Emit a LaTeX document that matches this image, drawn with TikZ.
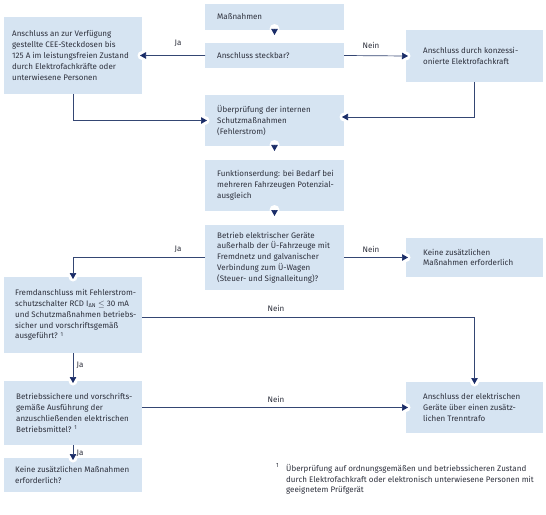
\documentclass[tikz,border=0pt]{standalone}
\usepackage{fontspec}
\setmainfont{Fira Sans}
\usetikzlibrary{arrows.meta,calc}
\definecolor{boxfill}{RGB}{214,228,242}
\definecolor{lin}{RGB}{52,70,115}
\definecolor{tipc}{RGB}{26,44,104}
\definecolor{txt}{RGB}{45,48,60}
% box node + its text node: name, x, y, width, height, left padding, text
\newcommand\bxnode[7]{%
  \node[bx, minimum height=#5bp, minimum width=#4bp] (#1) at (#2,#3) {};
  \node[bt] (#1-t) at ($(#1.west)+(#6,0)$) {#7};}
\begin{document}
\begin{tikzpicture}[x=1bp,y=-1bp,
  font=\fontsize{8bp}{10.8bp}\selectfont,
  bx/.style={fill=boxfill, anchor=north west, inner sep=0pt, outer sep=0pt},
  bt/.style={anchor=west, align=left, text=txt, inner sep=0pt},
  arr/.style={draw=lin, line width=0.7bp, -{Triangle[length=6bp,width=6.5bp,color=tipc]}},
  halo/.style={fill=white},
  lbl/.style={text=txt, inner sep=0pt}]
\useasboundingbox (0,0) rectangle (546,515);
\fill[white] (0,0) rectangle (546,515);
% boxes
\bxnode{mass}{205}{4}{139}{26}{12}{Maßnahmen}
\bxnode{steck}{205}{43}{139}{25}{12}{Anschluss steckbar?}
\bxnode{left}{4}{17}{138}{77}{8}{Anschluss an zur Verfügung\\gestellte CEE-Steckdosen bis\\125 A im leistungsfreien Zustand\\durch Elektrofachkräfte oder\\unterwiesene Personen}
\bxnode{right}{406}{30}{137}{52}{17}{Anschluss durch konzessi-\\onierte Elektrofachkraft}
\bxnode{ueber}{205}{95}{139}{51}{12}{Überprüfung der internen\\Schutzmaßnahmen\\(Fehlerstrom)}
\bxnode{funk}{205}{160}{139}{51}{12}{Funktionserdung: bei Bedarf bei\\mehreren Fahrzeugen Potenzial-\\ausgleich}
\bxnode{betr}{205}{225}{139}{65}{12}{Betrieb elektrischer Geräte\\außerhalb der Ü-Fahrzeuge mit\\Fremdnetz und galvanischer\\Verbindung zum Ü-Wagen\\(Steuer- und Signalleitung)?}
\bxnode{keine1}{406}{238}{137}{39}{17}{Keine zusätzlichen\\Maßnahmen erforderlich}
\bxnode{fremd}{4}{277}{138}{76}{11}{Fremdanschluss mit Fehlerstrom-\\schutzschalter RCD I\textsubscript{ΔN} $\leq$ 30 mA\\und Schutzmaßnahmen betriebs-\\sicher und vorschriftsgemäß\\ausgeführt? \textsuperscript{1}}
\bxnode{betrs}{4}{381}{138}{64}{12}{Betriebssichere und vorschrifts-\\gemäße Ausführung der\\anzuschließenden elektrischen\\Betriebsmittel? \textsuperscript{1}}
\bxnode{keine2}{4}{458}{138}{34}{11}{Keine zusätzlichen Maßnahmen\\erforderlich?}
\bxnode{trenn}{406}{382}{137}{51}{17}{Anschluss der elektrischen\\Geräte über einen zusätz-\\lichen Trenntrafo}
% footnote
\node[lbl, anchor=north west] (fnm) at (276,463) {\fontsize{6bp}{7bp}\selectfont 1};
\node[lbl, anchor=north west, align=left] (fn) at (286,464) {Überprüfung auf ordnungsgemäßen und betriebssicheren Zustand\\durch Elektrofachkraft oder elektronisch unterwiesene Personen mit\\geeignetem Prüfgerät};
% halos
\foreach \p in {left.east, right.west, ueber.west, keine1.west, fremd.north, betrs.north, keine2.north, trenn.north, trenn.west}
  \fill[halo] (\p) circle (4.5);
\foreach \p in {mass.south, ueber.south, funk.south}
  \fill[halo] ($(\p)+(0,-1)$) circle (5);
\fill[halo] ($(ueber.east)+(0,-3.5)$) circle (4.5);
% connectors
\draw[arr] ($(mass.south)+(0,-1)$) -- ($(mass.south)+(0,5)$);
\draw[arr] ($(ueber.south)+(0,-1)$) -- ($(ueber.south)+(0,5)$);
\draw[arr] ($(funk.south)+(0,-1)$) -- ($(funk.south)+(0,5)$);
\draw[arr, shorten >=-2bp] (steck.west) -- (left.east);
\draw[arr, shorten >=-2bp] (steck.east) -- (right.west);
\draw[arr, shorten >=-2bp] (left.south) |- (ueber.west);
\draw[arr, shorten >=-2bp] (right.south) |- ($(ueber.east)+(0,-3.5)$);
\draw[arr, shorten >=-2bp] (betr.west) -| (fremd.north);
\draw[arr, shorten >=-2bp] (betr.east) -- (keine1.west);
\draw[arr, shorten >=-2bp] ($(fremd.east)+(0,2)$) -| (trenn.north);
\draw[arr, shorten >=-2bp] (fremd.south) -- (betrs.north);
\draw[arr, shorten >=-2bp] (betrs.east |- trenn.west) -- (trenn.west);
\draw[arr, shorten >=-2bp] (betrs.south) -- (keine2.north);
% labels
\node[lbl] (l1) at (178,43) {Ja};
\node[lbl] (l2) at (371,45) {Nein};
\node[lbl] (l3) at (178,249) {Ja};
\node[lbl] (l4) at (371,249) {Nein};
\node[lbl] (l5) at (276,308) {Nein};
\node[lbl] (l6) at (80,365) {Ja};
\node[lbl] (l7) at (276,399) {Nein};
\node[lbl] (l8) at (80,453) {Ja};
\end{tikzpicture}
\end{document}
